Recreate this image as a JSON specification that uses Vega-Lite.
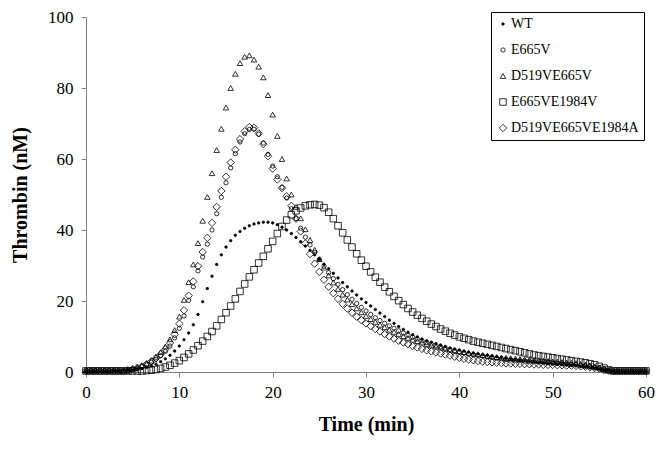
{
"$schema":"https://vega.github.io/schema/vega-lite/v6.json",
"width":560,"height":355,
"autosize":{"type":"none"},
"padding":{"left":86,"top":17,"right":19,"bottom":77},
"background":"white",
"config":{"view":{"stroke":null},"font":"Liberation Serif",
"axis":{"domainColor":"#808080","tickColor":"#808080","labelFont":"Liberation Serif","labelFontSize":17,"labelColor":"black","titleFont":"Liberation Serif","titleFontSize":20,"titleFontWeight":"bold","titleColor":"black","grid":false,"tickSize":5,"labelFlush":false}},
"data":{"values":[
{"s":"WT","t":0,"v":0.2},{"s":"WT","t":0.5,"v":0.2},{"s":"WT","t":1,"v":0.2},{"s":"WT","t":1.5,"v":0.2},{"s":"WT","t":2,"v":0.2},{"s":"WT","t":2.5,"v":0.2},{"s":"WT","t":3,"v":0.3},{"s":"WT","t":3.5,"v":0.3},{"s":"WT","t":4,"v":0.4},{"s":"WT","t":4.5,"v":0.5},{"s":"WT","t":5,"v":0.6},{"s":"WT","t":5.5,"v":0.8},{"s":"WT","t":6,"v":1},{"s":"WT","t":6.5,"v":1.3},{"s":"WT","t":7,"v":1.7},{"s":"WT","t":7.5,"v":2.2},{"s":"WT","t":8,"v":2.9},{"s":"WT","t":8.5,"v":3.7},{"s":"WT","t":9,"v":4.7},{"s":"WT","t":9.5,"v":5.9},{"s":"WT","t":10,"v":7.3},{"s":"WT","t":10.5,"v":9.1},{"s":"WT","t":11,"v":11},{"s":"WT","t":11.5,"v":13.3},{"s":"WT","t":12,"v":16.2},{"s":"WT","t":12.5,"v":19.8},{"s":"WT","t":13,"v":23.5},{"s":"WT","t":13.5,"v":27},{"s":"WT","t":14,"v":30.3},{"s":"WT","t":14.5,"v":33},{"s":"WT","t":15,"v":35.2},{"s":"WT","t":15.5,"v":37},{"s":"WT","t":16,"v":38.5},{"s":"WT","t":16.5,"v":39.6},{"s":"WT","t":17,"v":40.5},{"s":"WT","t":17.5,"v":41.2},{"s":"WT","t":18,"v":41.7},{"s":"WT","t":18.5,"v":42},{"s":"WT","t":19,"v":42.2},{"s":"WT","t":19.5,"v":42.2},{"s":"WT","t":20,"v":42},{"s":"WT","t":20.5,"v":41.5},{"s":"WT","t":21,"v":40.8},{"s":"WT","t":21.5,"v":40},{"s":"WT","t":22,"v":39},{"s":"WT","t":22.5,"v":37.9},{"s":"WT","t":23,"v":36.7},{"s":"WT","t":23.5,"v":35.5},{"s":"WT","t":24,"v":34.3},{"s":"WT","t":24.5,"v":33},{"s":"WT","t":25,"v":31.7},{"s":"WT","t":25.5,"v":30.4},{"s":"WT","t":26,"v":29.1},{"s":"WT","t":26.5,"v":27.8},{"s":"WT","t":27,"v":26.5},{"s":"WT","t":27.5,"v":25.2},{"s":"WT","t":28,"v":24},{"s":"WT","t":28.5,"v":22.8},{"s":"WT","t":29,"v":21.7},{"s":"WT","t":29.5,"v":20.6},{"s":"WT","t":30,"v":19.6},{"s":"WT","t":30.5,"v":18.6},{"s":"WT","t":31,"v":17.6},{"s":"WT","t":31.5,"v":16.6},{"s":"WT","t":32,"v":15.6},{"s":"WT","t":32.5,"v":14.6},{"s":"WT","t":33,"v":13.7},{"s":"WT","t":33.5,"v":12.8},{"s":"WT","t":34,"v":12},{"s":"WT","t":34.5,"v":11.2},{"s":"WT","t":35,"v":10.5},{"s":"WT","t":35.5,"v":9.9},{"s":"WT","t":36,"v":9.3},{"s":"WT","t":36.5,"v":8.8},{"s":"WT","t":37,"v":8.4},{"s":"WT","t":37.5,"v":8},{"s":"WT","t":38,"v":7.6},{"s":"WT","t":38.5,"v":7.2},{"s":"WT","t":39,"v":6.8},{"s":"WT","t":39.5,"v":6.5},{"s":"WT","t":40,"v":6.2},{"s":"WT","t":40.5,"v":5.9},{"s":"WT","t":41,"v":5.6},{"s":"WT","t":41.5,"v":5.3},{"s":"WT","t":42,"v":5.1},{"s":"WT","t":42.5,"v":4.9},{"s":"WT","t":43,"v":4.7},{"s":"WT","t":43.5,"v":4.5},{"s":"WT","t":44,"v":4.3},{"s":"WT","t":44.5,"v":4.1},{"s":"WT","t":45,"v":3.9},{"s":"WT","t":45.5,"v":3.7},{"s":"WT","t":46,"v":3.5},{"s":"WT","t":46.5,"v":3.3},{"s":"WT","t":47,"v":3.2},{"s":"WT","t":47.5,"v":3},{"s":"WT","t":48,"v":2.9},{"s":"WT","t":48.5,"v":2.7},{"s":"WT","t":49,"v":2.6},{"s":"WT","t":49.5,"v":2.4},{"s":"WT","t":50,"v":2.3},{"s":"WT","t":50.5,"v":2.2},{"s":"WT","t":51,"v":2.1},{"s":"WT","t":51.5,"v":2},{"s":"WT","t":52,"v":1.9},{"s":"WT","t":52.5,"v":1.8},{"s":"WT","t":53,"v":1.6},{"s":"WT","t":53.5,"v":1.5},{"s":"WT","t":54,"v":1.3},{"s":"WT","t":54.5,"v":1.1},{"s":"WT","t":55,"v":0.9},{"s":"WT","t":55.5,"v":0.6},{"s":"WT","t":56,"v":0.4},{"s":"WT","t":56.5,"v":0.3},{"s":"WT","t":57,"v":0.2},{"s":"WT","t":57.5,"v":0.2},{"s":"WT","t":58,"v":0.2},{"s":"WT","t":58.5,"v":0.2},{"s":"WT","t":59,"v":0.2},{"s":"WT","t":59.5,"v":0.2},{"s":"WT","t":60,"v":0.2},
{"s":"E665V","t":0,"v":0.3},{"s":"E665V","t":0.5,"v":0.3},{"s":"E665V","t":1,"v":0.3},{"s":"E665V","t":1.5,"v":0.3},{"s":"E665V","t":2,"v":0.3},{"s":"E665V","t":2.5,"v":0.3},{"s":"E665V","t":3,"v":0.3},{"s":"E665V","t":3.5,"v":0.3},{"s":"E665V","t":4,"v":0.3},{"s":"E665V","t":4.5,"v":0.5},{"s":"E665V","t":5,"v":0.8},{"s":"E665V","t":5.5,"v":1.1},{"s":"E665V","t":6,"v":1.5},{"s":"E665V","t":6.5,"v":2},{"s":"E665V","t":7,"v":2.7},{"s":"E665V","t":7.5,"v":3.6},{"s":"E665V","t":8,"v":4.6},{"s":"E665V","t":8.5,"v":5.8},{"s":"E665V","t":9,"v":7.3},{"s":"E665V","t":9.5,"v":9.6},{"s":"E665V","t":10,"v":12.3},{"s":"E665V","t":10.5,"v":15.8},{"s":"E665V","t":11,"v":20.2},{"s":"E665V","t":11.5,"v":24},{"s":"E665V","t":12,"v":28.5},{"s":"E665V","t":12.5,"v":32.4},{"s":"E665V","t":13,"v":36},{"s":"E665V","t":13.5,"v":40},{"s":"E665V","t":14,"v":44.6},{"s":"E665V","t":14.5,"v":49.2},{"s":"E665V","t":15,"v":53.3},{"s":"E665V","t":15.5,"v":57.5},{"s":"E665V","t":16,"v":61.5},{"s":"E665V","t":16.5,"v":64.8},{"s":"E665V","t":17,"v":67.1},{"s":"E665V","t":17.5,"v":68.3},{"s":"E665V","t":18,"v":68.4},{"s":"E665V","t":18.5,"v":67},{"s":"E665V","t":19,"v":64.5},{"s":"E665V","t":19.5,"v":61.3},{"s":"E665V","t":20,"v":58},{"s":"E665V","t":20.5,"v":55},{"s":"E665V","t":21,"v":52},{"s":"E665V","t":21.5,"v":49},{"s":"E665V","t":22,"v":46},{"s":"E665V","t":22.5,"v":43.2},{"s":"E665V","t":23,"v":40.5},{"s":"E665V","t":23.5,"v":38},{"s":"E665V","t":24,"v":35.8},{"s":"E665V","t":24.5,"v":33.7},{"s":"E665V","t":25,"v":31.7},{"s":"E665V","t":25.5,"v":29.8},{"s":"E665V","t":26,"v":28},{"s":"E665V","t":26.5,"v":26.3},{"s":"E665V","t":27,"v":24.7},{"s":"E665V","t":27.5,"v":23.2},{"s":"E665V","t":28,"v":21.8},{"s":"E665V","t":28.5,"v":20.5},{"s":"E665V","t":29,"v":19.3},{"s":"E665V","t":29.5,"v":18.2},{"s":"E665V","t":30,"v":17.2},{"s":"E665V","t":30.5,"v":16.2},{"s":"E665V","t":31,"v":15.3},{"s":"E665V","t":31.5,"v":14.5},{"s":"E665V","t":32,"v":13.7},{"s":"E665V","t":32.5,"v":13},{"s":"E665V","t":33,"v":12.3},{"s":"E665V","t":33.5,"v":11.6},{"s":"E665V","t":34,"v":11},{"s":"E665V","t":34.5,"v":10.4},{"s":"E665V","t":35,"v":9.8},{"s":"E665V","t":35.5,"v":9.3},{"s":"E665V","t":36,"v":8.8},{"s":"E665V","t":36.5,"v":8.3},{"s":"E665V","t":37,"v":7.9},{"s":"E665V","t":37.5,"v":7.5},{"s":"E665V","t":38,"v":7.1},{"s":"E665V","t":38.5,"v":6.7},{"s":"E665V","t":39,"v":6.3},{"s":"E665V","t":39.5,"v":6},{"s":"E665V","t":40,"v":5.7},{"s":"E665V","t":40.5,"v":5.4},{"s":"E665V","t":41,"v":5.1},{"s":"E665V","t":41.5,"v":4.9},{"s":"E665V","t":42,"v":4.7},{"s":"E665V","t":42.5,"v":4.5},{"s":"E665V","t":43,"v":4.3},{"s":"E665V","t":43.5,"v":4.1},{"s":"E665V","t":44,"v":3.9},{"s":"E665V","t":44.5,"v":3.7},{"s":"E665V","t":45,"v":3.5},{"s":"E665V","t":45.5,"v":3.4},{"s":"E665V","t":46,"v":3.3},{"s":"E665V","t":46.5,"v":3.2},{"s":"E665V","t":47,"v":3.1},{"s":"E665V","t":47.5,"v":3},{"s":"E665V","t":48,"v":2.9},{"s":"E665V","t":48.5,"v":2.8},{"s":"E665V","t":49,"v":2.7},{"s":"E665V","t":49.5,"v":2.6},{"s":"E665V","t":50,"v":2.5},{"s":"E665V","t":50.5,"v":2.4},{"s":"E665V","t":51,"v":2.3},{"s":"E665V","t":51.5,"v":2.2},{"s":"E665V","t":52,"v":2.1},{"s":"E665V","t":52.5,"v":2},{"s":"E665V","t":53,"v":1.8},{"s":"E665V","t":53.5,"v":1.6},{"s":"E665V","t":54,"v":1.4},{"s":"E665V","t":54.5,"v":1.2},{"s":"E665V","t":55,"v":0.9},{"s":"E665V","t":55.5,"v":0.6},{"s":"E665V","t":56,"v":0.4},{"s":"E665V","t":56.5,"v":0.3},{"s":"E665V","t":57,"v":0.3},{"s":"E665V","t":57.5,"v":0.3},{"s":"E665V","t":58,"v":0.3},{"s":"E665V","t":58.5,"v":0.3},{"s":"E665V","t":59,"v":0.3},{"s":"E665V","t":59.5,"v":0.3},{"s":"E665V","t":60,"v":0.3},
{"s":"D519VE665V","t":0,"v":0.4},{"s":"D519VE665V","t":0.5,"v":0.4},{"s":"D519VE665V","t":1,"v":0.4},{"s":"D519VE665V","t":1.5,"v":0.4},{"s":"D519VE665V","t":2,"v":0.4},{"s":"D519VE665V","t":2.5,"v":0.4},{"s":"D519VE665V","t":3,"v":0.4},{"s":"D519VE665V","t":3.5,"v":0.4},{"s":"D519VE665V","t":4,"v":0.4},{"s":"D519VE665V","t":4.5,"v":0.6},{"s":"D519VE665V","t":5,"v":0.9},{"s":"D519VE665V","t":5.5,"v":1.3},{"s":"D519VE665V","t":6,"v":1.8},{"s":"D519VE665V","t":6.5,"v":2.4},{"s":"D519VE665V","t":7,"v":3.2},{"s":"D519VE665V","t":7.5,"v":4.3},{"s":"D519VE665V","t":8,"v":5.6},{"s":"D519VE665V","t":8.5,"v":7.2},{"s":"D519VE665V","t":9,"v":9.2},{"s":"D519VE665V","t":9.5,"v":11.8},{"s":"D519VE665V","t":10,"v":15.6},{"s":"D519VE665V","t":10.5,"v":20.3},{"s":"D519VE665V","t":11,"v":25.3},{"s":"D519VE665V","t":11.5,"v":30.3},{"s":"D519VE665V","t":12,"v":36.3},{"s":"D519VE665V","t":12.5,"v":42.6},{"s":"D519VE665V","t":13,"v":49.3},{"s":"D519VE665V","t":13.5,"v":56},{"s":"D519VE665V","t":14,"v":62.5},{"s":"D519VE665V","t":14.5,"v":68.5},{"s":"D519VE665V","t":15,"v":74.5},{"s":"D519VE665V","t":15.5,"v":80},{"s":"D519VE665V","t":16,"v":84},{"s":"D519VE665V","t":16.5,"v":87},{"s":"D519VE665V","t":17,"v":88.8},{"s":"D519VE665V","t":17.5,"v":89.2},{"s":"D519VE665V","t":18,"v":88},{"s":"D519VE665V","t":18.5,"v":86},{"s":"D519VE665V","t":19,"v":83},{"s":"D519VE665V","t":19.5,"v":78},{"s":"D519VE665V","t":20,"v":72.5},{"s":"D519VE665V","t":20.5,"v":66.5},{"s":"D519VE665V","t":21,"v":60},{"s":"D519VE665V","t":21.5,"v":54.5},{"s":"D519VE665V","t":22,"v":50},{"s":"D519VE665V","t":22.5,"v":46.5},{"s":"D519VE665V","t":23,"v":43.3},{"s":"D519VE665V","t":23.5,"v":40.2},{"s":"D519VE665V","t":24,"v":37.2},{"s":"D519VE665V","t":24.5,"v":34.4},{"s":"D519VE665V","t":25,"v":31.8},{"s":"D519VE665V","t":25.5,"v":29.4},{"s":"D519VE665V","t":26,"v":27.2},{"s":"D519VE665V","t":26.5,"v":25.2},{"s":"D519VE665V","t":27,"v":23.4},{"s":"D519VE665V","t":27.5,"v":21.8},{"s":"D519VE665V","t":28,"v":20.4},{"s":"D519VE665V","t":28.5,"v":19.1},{"s":"D519VE665V","t":29,"v":17.9},{"s":"D519VE665V","t":29.5,"v":16.8},{"s":"D519VE665V","t":30,"v":15.8},{"s":"D519VE665V","t":30.5,"v":14.9},{"s":"D519VE665V","t":31,"v":14.1},{"s":"D519VE665V","t":31.5,"v":13.3},{"s":"D519VE665V","t":32,"v":12.6},{"s":"D519VE665V","t":32.5,"v":11.9},{"s":"D519VE665V","t":33,"v":11.3},{"s":"D519VE665V","t":33.5,"v":10.7},{"s":"D519VE665V","t":34,"v":10.1},{"s":"D519VE665V","t":34.5,"v":9.6},{"s":"D519VE665V","t":35,"v":9.1},{"s":"D519VE665V","t":35.5,"v":8.7},{"s":"D519VE665V","t":36,"v":8.3},{"s":"D519VE665V","t":36.5,"v":7.9},{"s":"D519VE665V","t":37,"v":7.5},{"s":"D519VE665V","t":37.5,"v":7.2},{"s":"D519VE665V","t":38,"v":6.9},{"s":"D519VE665V","t":38.5,"v":6.6},{"s":"D519VE665V","t":39,"v":6.3},{"s":"D519VE665V","t":39.5,"v":6},{"s":"D519VE665V","t":40,"v":5.8},{"s":"D519VE665V","t":40.5,"v":5.6},{"s":"D519VE665V","t":41,"v":5.4},{"s":"D519VE665V","t":41.5,"v":5.2},{"s":"D519VE665V","t":42,"v":5},{"s":"D519VE665V","t":42.5,"v":4.8},{"s":"D519VE665V","t":43,"v":4.6},{"s":"D519VE665V","t":43.5,"v":4.4},{"s":"D519VE665V","t":44,"v":4.2},{"s":"D519VE665V","t":44.5,"v":4.1},{"s":"D519VE665V","t":45,"v":4},{"s":"D519VE665V","t":45.5,"v":3.9},{"s":"D519VE665V","t":46,"v":3.8},{"s":"D519VE665V","t":46.5,"v":3.7},{"s":"D519VE665V","t":47,"v":3.6},{"s":"D519VE665V","t":47.5,"v":3.5},{"s":"D519VE665V","t":48,"v":3.4},{"s":"D519VE665V","t":48.5,"v":3.3},{"s":"D519VE665V","t":49,"v":3.2},{"s":"D519VE665V","t":49.5,"v":3.1},{"s":"D519VE665V","t":50,"v":3},{"s":"D519VE665V","t":50.5,"v":2.9},{"s":"D519VE665V","t":51,"v":2.8},{"s":"D519VE665V","t":51.5,"v":2.7},{"s":"D519VE665V","t":52,"v":2.6},{"s":"D519VE665V","t":52.5,"v":2.5},{"s":"D519VE665V","t":53,"v":2.3},{"s":"D519VE665V","t":53.5,"v":2.1},{"s":"D519VE665V","t":54,"v":1.9},{"s":"D519VE665V","t":54.5,"v":1.6},{"s":"D519VE665V","t":55,"v":1.3},{"s":"D519VE665V","t":55.5,"v":0.9},{"s":"D519VE665V","t":56,"v":0.5},{"s":"D519VE665V","t":56.5,"v":0.3},{"s":"D519VE665V","t":57,"v":0.3},{"s":"D519VE665V","t":57.5,"v":0.3},{"s":"D519VE665V","t":58,"v":0.3},{"s":"D519VE665V","t":58.5,"v":0.3},{"s":"D519VE665V","t":59,"v":0.3},{"s":"D519VE665V","t":59.5,"v":0.3},{"s":"D519VE665V","t":60,"v":0.3},
{"s":"E665VE1984V","t":0,"v":0.3},{"s":"E665VE1984V","t":0.5,"v":0.3},{"s":"E665VE1984V","t":1,"v":0.3},{"s":"E665VE1984V","t":1.5,"v":0.3},{"s":"E665VE1984V","t":2,"v":0.3},{"s":"E665VE1984V","t":2.5,"v":0.3},{"s":"E665VE1984V","t":3,"v":0.3},{"s":"E665VE1984V","t":3.5,"v":0.3},{"s":"E665VE1984V","t":4,"v":0.3},{"s":"E665VE1984V","t":4.5,"v":0.3},{"s":"E665VE1984V","t":5,"v":0.3},{"s":"E665VE1984V","t":5.5,"v":0.3},{"s":"E665VE1984V","t":6,"v":0.3},{"s":"E665VE1984V","t":6.5,"v":0.4},{"s":"E665VE1984V","t":7,"v":0.5},{"s":"E665VE1984V","t":7.5,"v":0.7},{"s":"E665VE1984V","t":8,"v":1},{"s":"E665VE1984V","t":8.5,"v":1.4},{"s":"E665VE1984V","t":9,"v":1.9},{"s":"E665VE1984V","t":9.5,"v":2.5},{"s":"E665VE1984V","t":10,"v":3.2},{"s":"E665VE1984V","t":10.5,"v":4.1},{"s":"E665VE1984V","t":11,"v":5.1},{"s":"E665VE1984V","t":11.5,"v":6.2},{"s":"E665VE1984V","t":12,"v":7.4},{"s":"E665VE1984V","t":12.5,"v":8.7},{"s":"E665VE1984V","t":13,"v":10},{"s":"E665VE1984V","t":13.5,"v":11.4},{"s":"E665VE1984V","t":14,"v":13},{"s":"E665VE1984V","t":14.5,"v":14.8},{"s":"E665VE1984V","t":15,"v":16.7},{"s":"E665VE1984V","t":15.5,"v":18.6},{"s":"E665VE1984V","t":16,"v":20.6},{"s":"E665VE1984V","t":16.5,"v":22.7},{"s":"E665VE1984V","t":17,"v":24.8},{"s":"E665VE1984V","t":17.5,"v":26.8},{"s":"E665VE1984V","t":18,"v":28.8},{"s":"E665VE1984V","t":18.5,"v":30.7},{"s":"E665VE1984V","t":19,"v":32.6},{"s":"E665VE1984V","t":19.5,"v":34.7},{"s":"E665VE1984V","t":20,"v":36.8},{"s":"E665VE1984V","t":20.5,"v":39},{"s":"E665VE1984V","t":21,"v":41},{"s":"E665VE1984V","t":21.5,"v":42.8},{"s":"E665VE1984V","t":22,"v":44.3},{"s":"E665VE1984V","t":22.5,"v":45.4},{"s":"E665VE1984V","t":23,"v":46.2},{"s":"E665VE1984V","t":23.5,"v":46.8},{"s":"E665VE1984V","t":24,"v":47.1},{"s":"E665VE1984V","t":24.5,"v":47.2},{"s":"E665VE1984V","t":25,"v":47},{"s":"E665VE1984V","t":25.5,"v":46.3},{"s":"E665VE1984V","t":26,"v":45},{"s":"E665VE1984V","t":26.5,"v":43.2},{"s":"E665VE1984V","t":27,"v":41.2},{"s":"E665VE1984V","t":27.5,"v":39.2},{"s":"E665VE1984V","t":28,"v":37.2},{"s":"E665VE1984V","t":28.5,"v":35.2},{"s":"E665VE1984V","t":29,"v":33.3},{"s":"E665VE1984V","t":29.5,"v":31.5},{"s":"E665VE1984V","t":30,"v":29.8},{"s":"E665VE1984V","t":30.5,"v":28.2},{"s":"E665VE1984V","t":31,"v":26.7},{"s":"E665VE1984V","t":31.5,"v":25.3},{"s":"E665VE1984V","t":32,"v":23.9},{"s":"E665VE1984V","t":32.5,"v":22.6},{"s":"E665VE1984V","t":33,"v":21.3},{"s":"E665VE1984V","t":33.5,"v":20.1},{"s":"E665VE1984V","t":34,"v":19},{"s":"E665VE1984V","t":34.5,"v":17.9},{"s":"E665VE1984V","t":35,"v":16.9},{"s":"E665VE1984V","t":35.5,"v":16},{"s":"E665VE1984V","t":36,"v":15.1},{"s":"E665VE1984V","t":36.5,"v":14.3},{"s":"E665VE1984V","t":37,"v":13.5},{"s":"E665VE1984V","t":37.5,"v":12.8},{"s":"E665VE1984V","t":38,"v":12.1},{"s":"E665VE1984V","t":38.5,"v":11.5},{"s":"E665VE1984V","t":39,"v":10.9},{"s":"E665VE1984V","t":39.5,"v":10.4},{"s":"E665VE1984V","t":40,"v":9.9},{"s":"E665VE1984V","t":40.5,"v":9.5},{"s":"E665VE1984V","t":41,"v":9.1},{"s":"E665VE1984V","t":41.5,"v":8.7},{"s":"E665VE1984V","t":42,"v":8.4},{"s":"E665VE1984V","t":42.5,"v":8.1},{"s":"E665VE1984V","t":43,"v":7.8},{"s":"E665VE1984V","t":43.5,"v":7.5},{"s":"E665VE1984V","t":44,"v":7.2},{"s":"E665VE1984V","t":44.5,"v":6.9},{"s":"E665VE1984V","t":45,"v":6.6},{"s":"E665VE1984V","t":45.5,"v":6.3},{"s":"E665VE1984V","t":46,"v":6},{"s":"E665VE1984V","t":46.5,"v":5.7},{"s":"E665VE1984V","t":47,"v":5.4},{"s":"E665VE1984V","t":47.5,"v":5.1},{"s":"E665VE1984V","t":48,"v":4.8},{"s":"E665VE1984V","t":48.5,"v":4.6},{"s":"E665VE1984V","t":49,"v":4.4},{"s":"E665VE1984V","t":49.5,"v":4.2},{"s":"E665VE1984V","t":50,"v":4},{"s":"E665VE1984V","t":50.5,"v":3.8},{"s":"E665VE1984V","t":51,"v":3.6},{"s":"E665VE1984V","t":51.5,"v":3.4},{"s":"E665VE1984V","t":52,"v":3.2},{"s":"E665VE1984V","t":52.5,"v":3},{"s":"E665VE1984V","t":53,"v":2.8},{"s":"E665VE1984V","t":53.5,"v":2.6},{"s":"E665VE1984V","t":54,"v":2.3},{"s":"E665VE1984V","t":54.5,"v":2},{"s":"E665VE1984V","t":55,"v":1.6},{"s":"E665VE1984V","t":55.5,"v":1.1},{"s":"E665VE1984V","t":56,"v":0.6},{"s":"E665VE1984V","t":56.5,"v":0.3},{"s":"E665VE1984V","t":57,"v":0.3},{"s":"E665VE1984V","t":57.5,"v":0.3},{"s":"E665VE1984V","t":58,"v":0.3},{"s":"E665VE1984V","t":58.5,"v":0.3},{"s":"E665VE1984V","t":59,"v":0.3},{"s":"E665VE1984V","t":59.5,"v":0.3},{"s":"E665VE1984V","t":60,"v":0.3},
{"s":"D519VE665VE1984A","t":0,"v":0.3},{"s":"D519VE665VE1984A","t":0.5,"v":0.3},{"s":"D519VE665VE1984A","t":1,"v":0.3},{"s":"D519VE665VE1984A","t":1.5,"v":0.3},{"s":"D519VE665VE1984A","t":2,"v":0.3},{"s":"D519VE665VE1984A","t":2.5,"v":0.3},{"s":"D519VE665VE1984A","t":3,"v":0.3},{"s":"D519VE665VE1984A","t":3.5,"v":0.3},{"s":"D519VE665VE1984A","t":4,"v":0.3},{"s":"D519VE665VE1984A","t":4.5,"v":0.5},{"s":"D519VE665VE1984A","t":5,"v":0.8},{"s":"D519VE665VE1984A","t":5.5,"v":1.2},{"s":"D519VE665VE1984A","t":6,"v":1.6},{"s":"D519VE665VE1984A","t":6.5,"v":2.2},{"s":"D519VE665VE1984A","t":7,"v":3},{"s":"D519VE665VE1984A","t":7.5,"v":3.9},{"s":"D519VE665VE1984A","t":8,"v":5},{"s":"D519VE665VE1984A","t":8.5,"v":6.4},{"s":"D519VE665VE1984A","t":9,"v":8.2},{"s":"D519VE665VE1984A","t":9.5,"v":10.6},{"s":"D519VE665VE1984A","t":10,"v":13.6},{"s":"D519VE665VE1984A","t":10.5,"v":17.4},{"s":"D519VE665VE1984A","t":11,"v":21.5},{"s":"D519VE665VE1984A","t":11.5,"v":25.5},{"s":"D519VE665VE1984A","t":12,"v":29.8},{"s":"D519VE665VE1984A","t":12.5,"v":33.8},{"s":"D519VE665VE1984A","t":13,"v":37.8},{"s":"D519VE665VE1984A","t":13.5,"v":42},{"s":"D519VE665VE1984A","t":14,"v":46.5},{"s":"D519VE665VE1984A","t":14.5,"v":51},{"s":"D519VE665VE1984A","t":15,"v":55},{"s":"D519VE665VE1984A","t":15.5,"v":59},{"s":"D519VE665VE1984A","t":16,"v":62.6},{"s":"D519VE665VE1984A","t":16.5,"v":65.6},{"s":"D519VE665VE1984A","t":17,"v":67.8},{"s":"D519VE665VE1984A","t":17.5,"v":69},{"s":"D519VE665VE1984A","t":18,"v":68.8},{"s":"D519VE665VE1984A","t":18.5,"v":67.2},{"s":"D519VE665VE1984A","t":19,"v":64.2},{"s":"D519VE665VE1984A","t":19.5,"v":60.8},{"s":"D519VE665VE1984A","t":20,"v":57.3},{"s":"D519VE665VE1984A","t":20.5,"v":54.2},{"s":"D519VE665VE1984A","t":21,"v":51.8},{"s":"D519VE665VE1984A","t":21.5,"v":49.5},{"s":"D519VE665VE1984A","t":22,"v":46.8},{"s":"D519VE665VE1984A","t":22.5,"v":43.2},{"s":"D519VE665VE1984A","t":23,"v":39.6},{"s":"D519VE665VE1984A","t":23.5,"v":36.2},{"s":"D519VE665VE1984A","t":24,"v":33.2},{"s":"D519VE665VE1984A","t":24.5,"v":30.5},{"s":"D519VE665VE1984A","t":25,"v":28.2},{"s":"D519VE665VE1984A","t":25.5,"v":26},{"s":"D519VE665VE1984A","t":26,"v":24},{"s":"D519VE665VE1984A","t":26.5,"v":22.2},{"s":"D519VE665VE1984A","t":27,"v":20.6},{"s":"D519VE665VE1984A","t":27.5,"v":19.2},{"s":"D519VE665VE1984A","t":28,"v":17.9},{"s":"D519VE665VE1984A","t":28.5,"v":16.7},{"s":"D519VE665VE1984A","t":29,"v":15.6},{"s":"D519VE665VE1984A","t":29.5,"v":14.6},{"s":"D519VE665VE1984A","t":30,"v":13.7},{"s":"D519VE665VE1984A","t":30.5,"v":12.9},{"s":"D519VE665VE1984A","t":31,"v":12.1},{"s":"D519VE665VE1984A","t":31.5,"v":11.4},{"s":"D519VE665VE1984A","t":32,"v":10.7},{"s":"D519VE665VE1984A","t":32.5,"v":10},{"s":"D519VE665VE1984A","t":33,"v":9.4},{"s":"D519VE665VE1984A","t":33.5,"v":8.8},{"s":"D519VE665VE1984A","t":34,"v":8.3},{"s":"D519VE665VE1984A","t":34.5,"v":7.8},{"s":"D519VE665VE1984A","t":35,"v":7.3},{"s":"D519VE665VE1984A","t":35.5,"v":6.9},{"s":"D519VE665VE1984A","t":36,"v":6.5},{"s":"D519VE665VE1984A","t":36.5,"v":6.1},{"s":"D519VE665VE1984A","t":37,"v":5.8},{"s":"D519VE665VE1984A","t":37.5,"v":5.5},{"s":"D519VE665VE1984A","t":38,"v":5.2},{"s":"D519VE665VE1984A","t":38.5,"v":4.9},{"s":"D519VE665VE1984A","t":39,"v":4.6},{"s":"D519VE665VE1984A","t":39.5,"v":4.3},{"s":"D519VE665VE1984A","t":40,"v":4},{"s":"D519VE665VE1984A","t":40.5,"v":3.7},{"s":"D519VE665VE1984A","t":41,"v":3.5},{"s":"D519VE665VE1984A","t":41.5,"v":3.3},{"s":"D519VE665VE1984A","t":42,"v":3.1},{"s":"D519VE665VE1984A","t":42.5,"v":2.9},{"s":"D519VE665VE1984A","t":43,"v":2.8},{"s":"D519VE665VE1984A","t":43.5,"v":2.7},{"s":"D519VE665VE1984A","t":44,"v":2.6},{"s":"D519VE665VE1984A","t":44.5,"v":2.5},{"s":"D519VE665VE1984A","t":45,"v":2.4},{"s":"D519VE665VE1984A","t":45.5,"v":2.4},{"s":"D519VE665VE1984A","t":46,"v":2.3},{"s":"D519VE665VE1984A","t":46.5,"v":2.3},{"s":"D519VE665VE1984A","t":47,"v":2.2},{"s":"D519VE665VE1984A","t":47.5,"v":2.2},{"s":"D519VE665VE1984A","t":48,"v":2.1},{"s":"D519VE665VE1984A","t":48.5,"v":2.1},{"s":"D519VE665VE1984A","t":49,"v":2},{"s":"D519VE665VE1984A","t":49.5,"v":2},{"s":"D519VE665VE1984A","t":50,"v":2},{"s":"D519VE665VE1984A","t":50.5,"v":1.9},{"s":"D519VE665VE1984A","t":51,"v":1.9},{"s":"D519VE665VE1984A","t":51.5,"v":1.8},{"s":"D519VE665VE1984A","t":52,"v":1.8},{"s":"D519VE665VE1984A","t":52.5,"v":1.7},{"s":"D519VE665VE1984A","t":53,"v":1.6},{"s":"D519VE665VE1984A","t":53.5,"v":1.5},{"s":"D519VE665VE1984A","t":54,"v":1.3},{"s":"D519VE665VE1984A","t":54.5,"v":1.1},{"s":"D519VE665VE1984A","t":55,"v":0.9},{"s":"D519VE665VE1984A","t":55.5,"v":0.6},{"s":"D519VE665VE1984A","t":56,"v":0.4},{"s":"D519VE665VE1984A","t":56.5,"v":0.3},{"s":"D519VE665VE1984A","t":57,"v":0.3},{"s":"D519VE665VE1984A","t":57.5,"v":0.3},{"s":"D519VE665VE1984A","t":58,"v":0.3},{"s":"D519VE665VE1984A","t":58.5,"v":0.3},{"s":"D519VE665VE1984A","t":59,"v":0.3},{"s":"D519VE665VE1984A","t":59.5,"v":0.3},{"s":"D519VE665VE1984A","t":60,"v":0.3}
]},
"mark":{"type":"point","filled":true,"stroke":"black","strokeWidth":0.8,"opacity":1},
"encoding":{
"x":{"field":"t","type":"quantitative","scale":{"domain":[0,60],"nice":false,"zero":false},"axis":{"values":[0,10,20,30,40,50,60],"title":"Time (min)","labelPadding":7,"titlePadding":14}},
"y":{"field":"v","type":"quantitative","scale":{"domain":[0,100],"nice":false},"axis":{"values":[0,20,40,60,80,100],"title":"Thrombin (nM)","labelPadding":8,"titlePadding":17}},
"shape":{"field":"s","type":"nominal","scale":{"domain":["WT","E665V","D519VE665V","E665VE1984V","D519VE665VE1984A"],"range":["circle","circle","triangle-up","square","diamond"]},"legend":{"orient":"none","legendX":405,"legendY":-5,"title":null,"labelFont":"Liberation Serif","labelFontSize":14,"labelColor":"black","strokeColor":"black","fillColor":"white","padding":5,"rowPadding":12,"labelOffset":1,"symbolStrokeColor":"black","symbolStrokeWidth":0.8}},
"size":{"field":"s","type":"nominal","scale":{"domain":["WT","E665V","D519VE665V","E665VE1984V","D519VE665VE1984A"],"range":[6,55,65,45,60]}},
"fill":{"field":"s","type":"nominal","scale":{"domain":["WT","E665V","D519VE665V","E665VE1984V","D519VE665VE1984A"],"range":["black","transparent","transparent","transparent","transparent"]}}
}
}
